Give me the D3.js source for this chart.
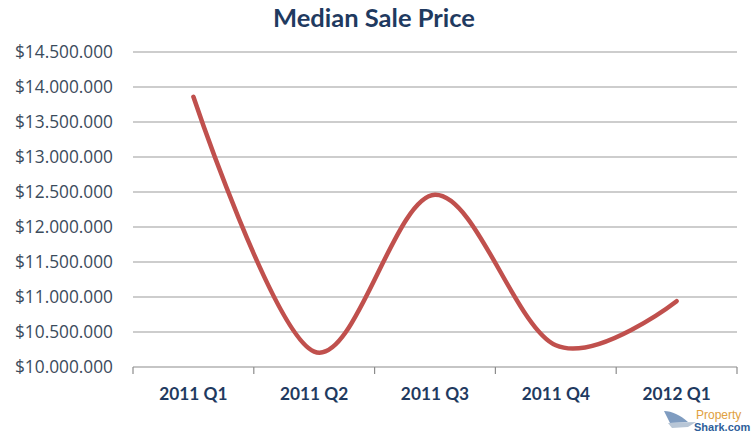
<!DOCTYPE html>
<html>
<head>
<meta charset="utf-8">
<script src="https://cdn.jsdelivr.net/npm/d3@7"></script>
<style>
  body { margin: 0; background: #fff; }
  svg { display: block; }
</style>
</head>
<body>
<div id="chart"></div>
<script>
// chart data
var quarters = ["2011 Q1", "2011 Q2", "2011 Q3", "2011 Q4", "2012 Q1"];
var prices = [13860000, 10220000, 12460000, 10310000, 10940000];
var yTicks = [10000000, 10500000, 11000000, 11500000, 12000000, 12500000, 13000000, 13500000, 14000000, 14500000];

var W = 753, H = 436;
var margin = { top: 52, right: 16, bottom: 69, left: 133 },
    width = W - margin.left - margin.right,
    height = H - margin.top - margin.bottom;

var svg = d3.select("#chart").append("svg")
    .attr("width", W)
    .attr("height", H);

// title
svg.append("text")
    .attr("x", 374)
    .attr("y", 27)
    .attr("text-anchor", "middle")
    .style("font-family", "Lato, 'Open Sans', sans-serif")
    .style("font-weight", "bold")
    .style("font-size", "25.5px")
    .style("fill", "#1f3a60")
    .text("Median Sale Price");

var g = svg.append("g")
    .attr("transform", "translate(" + margin.left + "," + margin.top + ")");

var x = d3.scaleBand().domain(quarters).range([0, width]);
var y = d3.scaleLinear().domain([10000000, 14500000]).range([height, 0]);

// number format with dots as thousands separator
var fmt = d3.formatLocale({ decimal: ",", thousands: ".", grouping: [3], currency: ["$", ""] }).format("$,.0f");

// gridlines
g.append("g")
    .selectAll("line")
    .data(yTicks.slice(1))
    .enter().append("line")
    .attr("x1", 0)
    .attr("x2", width)
    .attr("y1", function (d) { return y(d); })
    .attr("y2", function (d) { return y(d); })
    .attr("stroke", "#9c9c9c")
    .attr("stroke-width", 1.2);

// y axis labels
var yaxis = d3.axisLeft(y).tickValues(yTicks).tickSize(0).tickPadding(20).tickFormat(fmt);
g.append("g")
    .call(yaxis)
    .call(function (s) { s.select(".domain").remove(); })
    .selectAll("text")
    .style("font-family", "'Open Sans', Lato, sans-serif")
    .style("font-size", "17.3px")
    .style("fill", "#3b4b5c");

// x axis with ticks at band edges
var xg = g.append("g").attr("transform", "translate(0," + height + ")");
xg.append("line")
    .attr("x1", 0).attr("x2", width)
    .attr("stroke", "#8c8c8c").attr("stroke-width", 1.2);
xg.selectAll("line.tk")
    .data(d3.range(quarters.length + 1))
    .enter().append("line")
    .attr("class", "tk")
    .attr("x1", function (i) { return i * x.step(); })
    .attr("x2", function (i) { return i * x.step(); })
    .attr("y1", 0).attr("y2", 7)
    .attr("stroke", "#8c8c8c").attr("stroke-width", 1.2);
xg.selectAll("text")
    .data(quarters)
    .enter().append("text")
    .attr("x", function (d) { return x(d) + x.bandwidth() / 2; })
    .attr("y", 33)
    .attr("text-anchor", "middle")
    .style("font-family", "Lato, 'Open Sans', sans-serif")
    .style("font-weight", "bold")
    .style("font-size", "17.3px")
    .style("fill", "#1f3a60")
    .text(function (d) { return d; });

// smoothed line
var line = d3.line()
    .x(function (d, i) { return x(quarters[i]) + x.bandwidth() / 2; })
    .y(function (d) { return y(d); })
    .curve(d3.curveCatmullRom.alpha(0));

g.append("path")
    .datum(prices)
    .attr("d", line)
    .attr("fill", "none")
    .attr("stroke", "#c0504d")
    .attr("stroke-width", 4.5)
    .attr("stroke-linecap", "round");

// logo
var logo = svg.append("g").attr("transform", "translate(664,405)");
logo.append("path")
    .attr("d", "M0,6 C8,6 16,10 24,17 L30,17 L6,18 Z")
    .attr("fill", "#7f9cc0");
logo.append("path")
    .attr("d", "M4,18 L32,17 L24,22 L8,23 Z")
    .attr("fill", "#b8c6d6");
logo.append("text")
    .attr("x", 32).attr("y", 14)
    .style("font-family", "'Liberation Sans', Arial, sans-serif")
    .style("font-size", "12px")
    .style("fill", "#e0a040")
    .text("Property");
logo.append("text")
    .attr("x", 30).attr("y", 26)
    .style("font-family", "'Liberation Sans', Arial, sans-serif")
    .style("font-weight", "bold")
    .style("font-size", "11px")
    .style("fill", "#2f5f9a")
    .text("Shark.com");
</script>
</body>
</html>
